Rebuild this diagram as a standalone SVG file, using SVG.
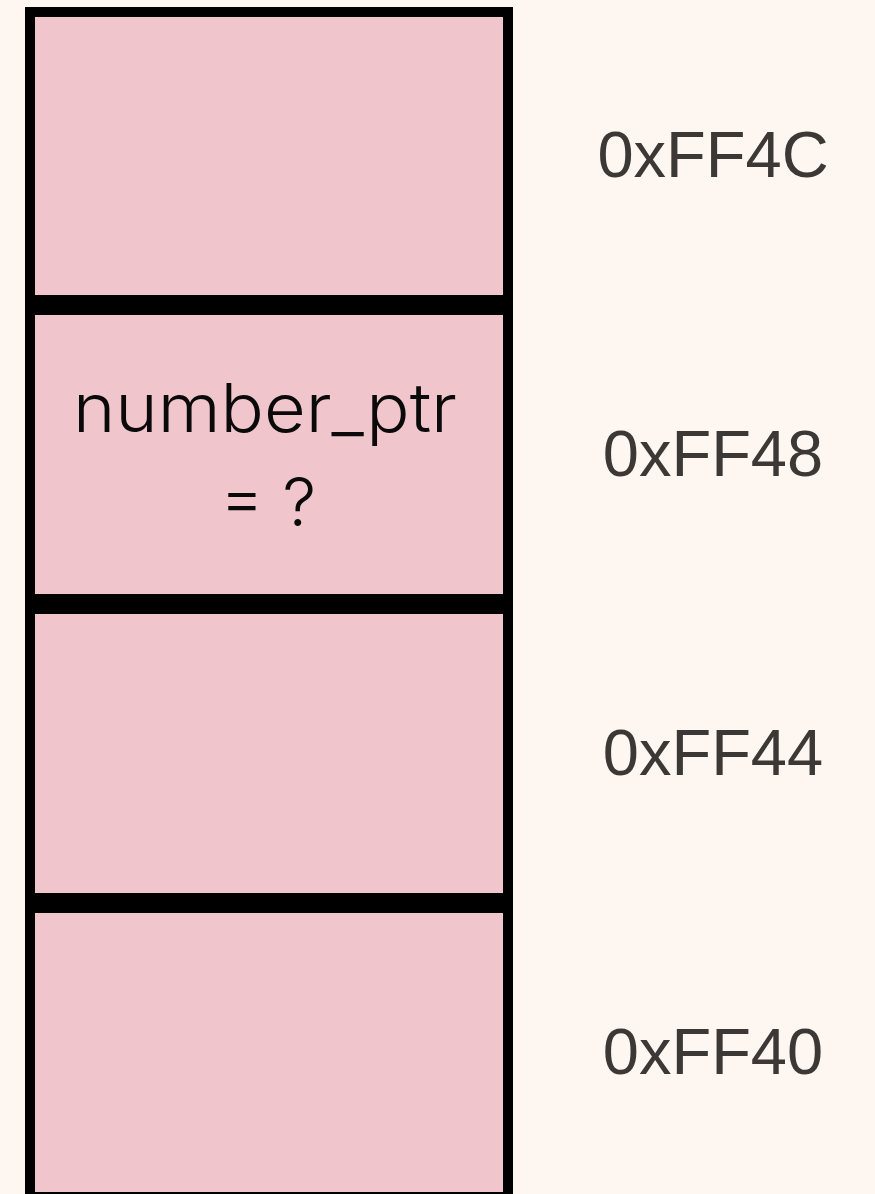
<svg xmlns="http://www.w3.org/2000/svg" width="875" height="1194" viewBox="0 0 875 1194">
  <style>
    .cell { fill: #F0C5CC; stroke: #000000; stroke-width: 10; }
    .addr { font-family: "Liberation Sans", Arial, sans-serif; font-size: 65px; fill: #3C3836; text-anchor: middle; }
    .val { font-family: Inter, "Noto Sans", sans-serif; font-size: 67px; font-weight: 350; fill: #0A0A0A; text-anchor: middle; }
  </style>
  <rect width="875" height="1194" fill="#FEF6F1"/>
  <g id="cell-ff4c">
    <rect class="cell" x="30" y="12" width="478" height="288"/>
    <text class="addr" x="713" y="177">0xFF4C</text>
  </g>
  <g id="cell-ff48">
    <rect class="cell" x="30" y="310" width="478" height="289"/>
    <text class="val" x="265" y="432" textLength="384" lengthAdjust="spacingAndGlyphs">number_ptr</text>
    <text class="val" x="268" y="526">= ?</text>
    <text class="addr" x="713" y="476">0xFF48</text>
  </g>
  <g id="cell-ff44">
    <rect class="cell" x="30" y="609" width="478" height="289"/>
    <text class="addr" x="713" y="775">0xFF44</text>
  </g>
  <g id="cell-ff40">
    <rect class="cell" x="30" y="908" width="478" height="289"/>
    <text class="addr" x="713" y="1074">0xFF40</text>
  </g>
</svg>
